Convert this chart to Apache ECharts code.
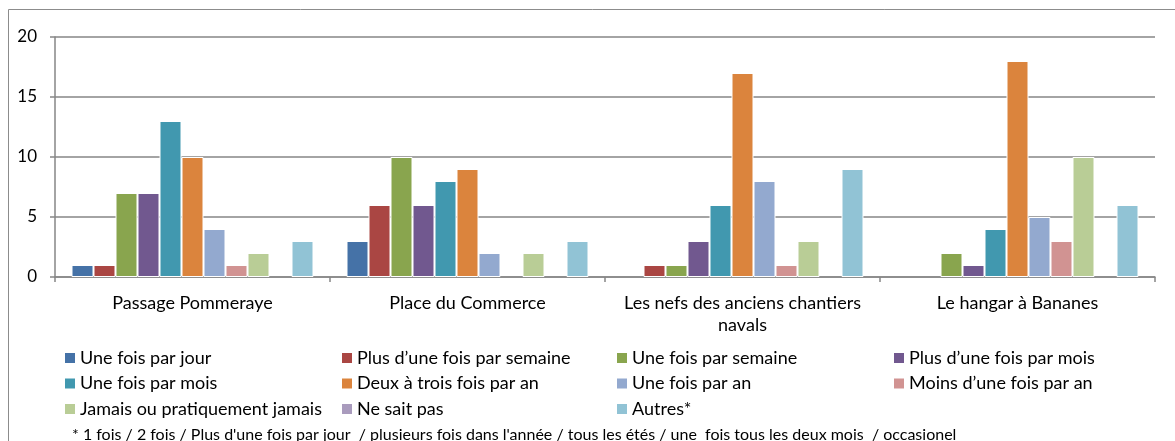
<!DOCTYPE html>
<html><head><meta charset="utf-8">
<script src="https://cdn.jsdelivr.net/npm/echarts@6/dist/echarts.min.js"></script>
<style>html,body{margin:0;padding:0;background:#fff}#c{width:1175px;height:441px}</style>
</head><body><div id="c"></div>
<script>
const categories = ["Passage Pommeraye", "Place du Commerce", "Les nefs des anciens chantiers\nnavals", "Le hangar à Bananes"];
const seriesNames = ["Une fois par jour", "Plus d\u2019une fois par semaine", "Une fois par semaine", "Plus d\u2019une fois par mois",
  "Une fois par mois", "Deux à trois fois par an", "Une fois par an", "Moins d\u2019une fois par an",
  "Jamais ou pratiquement jamais", "Ne sait pas", "Autres*"];
const uneFoisParJour = [1, 3, 0, 0];
const plusUneFoisParSemaine = [1, 6, 1, 0];
const uneFoisParSemaine = [7, 10, 1, 2];
const plusUneFoisParMois = [7, 6, 3, 1];
const uneFoisParMois = [13, 8, 6, 4];
const deuxATroisFoisParAn = [10, 9, 17, 18];
const uneFoisParAn = [4, 2, 8, 5];
const moinsUneFoisParAn = [1, 0, 1, 3];
const jamais = [2, 2, 3, 10];
const neSaitPas = [0, 0, 0, 0];
const autres = [3, 3, 9, 6];
const yTicks = [0, 5, 10, 15, 20];
const footnote = "* 1 fois / 2 fois / Plus d'une fois par jour  / plusieurs fois dans l'année / tous les étés / une  fois tous les deux mois  / occasionel";

const values = [uneFoisParJour, plusUneFoisParSemaine, uneFoisParSemaine, plusUneFoisParMois, uneFoisParMois,
  deuxATroisFoisParAn, uneFoisParAn, moinsUneFoisParAn, jamais, neSaitPas, autres];
const colors = ["#4572A7", "#AA4643", "#89A54E", "#71588F", "#4198AF", "#DB843D", "#93A9CF", "#D19392", "#B9CD96", "#A99BBD", "#91C3D5"];
const FONT = "Lato, 'Open Sans', sans-serif";

const chart = echarts.init(document.getElementById('c'), null, {renderer: 'canvas'});
const legendCols = [[0, 4, 8], [1, 5, 9], [2, 6, 10], [3, 7]];
const legendX = [63, 340, 615, 892];
const legends = legendCols.map((idxs, i) => ({
  orient: 'vertical', left: legendX[i], top: 349, itemWidth: 12, itemHeight: 12, itemGap: 7.5,
  icon: 'rect', selectedMode: false, padding: 0,
  textStyle: {fontFamily: FONT, fontSize: 18, lineHeight: 18, color: '#000', padding: [0, 0, 0, -1]},
  data: idxs.map(k => seriesNames[k])
}));

chart.setOption({
  animation: false,
  color: colors,
  grid: {left: 55, right: 20, top: 37, bottom: 164},
  legend: legends,
  graphic: [
    {type: 'rect', shape: {x: 8.5, y: 9.5, width: 1200, height: 500}, style: {fill: 'none', stroke: '#8c8c8c', lineWidth: 1}, silent: true},
    {type: 'text', left: 72, top: 427, style: {text: footnote, fontFamily: FONT, fontSize: 16, fill: '#000'}}
  ],
  xAxis: {
    type: 'category', data: categories,
    axisLine: {lineStyle: {color: '#868686', width: 1.5}},
    axisTick: {show: true, length: 5, lineStyle: {color: '#868686', width: 1.5}},
    axisLabel: {interval: 0, fontFamily: FONT, fontSize: 18, color: '#000', margin: 15, lineHeight: 22}
  },
  yAxis: {
    type: 'value', min: 0, max: 20, interval: 5,
    axisLine: {show: true, lineStyle: {color: '#868686', width: 1.5}},
    axisTick: {show: true, length: 5, lineStyle: {color: '#868686', width: 1.5}},
    splitLine: {lineStyle: {color: '#868686', width: 1.5}},
    axisLabel: {fontFamily: FONT, fontSize: 17, color: '#000', margin: 18,
      formatter: v => yTicks.includes(v) ? String(v) : ''}
  },
  series: seriesNames.map((n, i) => ({
    name: n, type: 'bar', data: values[i].map(v => v === 0 ? null : v),
    barGap: '0%', barCategoryGap: '12%',
    itemStyle: {borderColor: '#fff', borderWidth: 1}
  }))
});
</script></body></html>
